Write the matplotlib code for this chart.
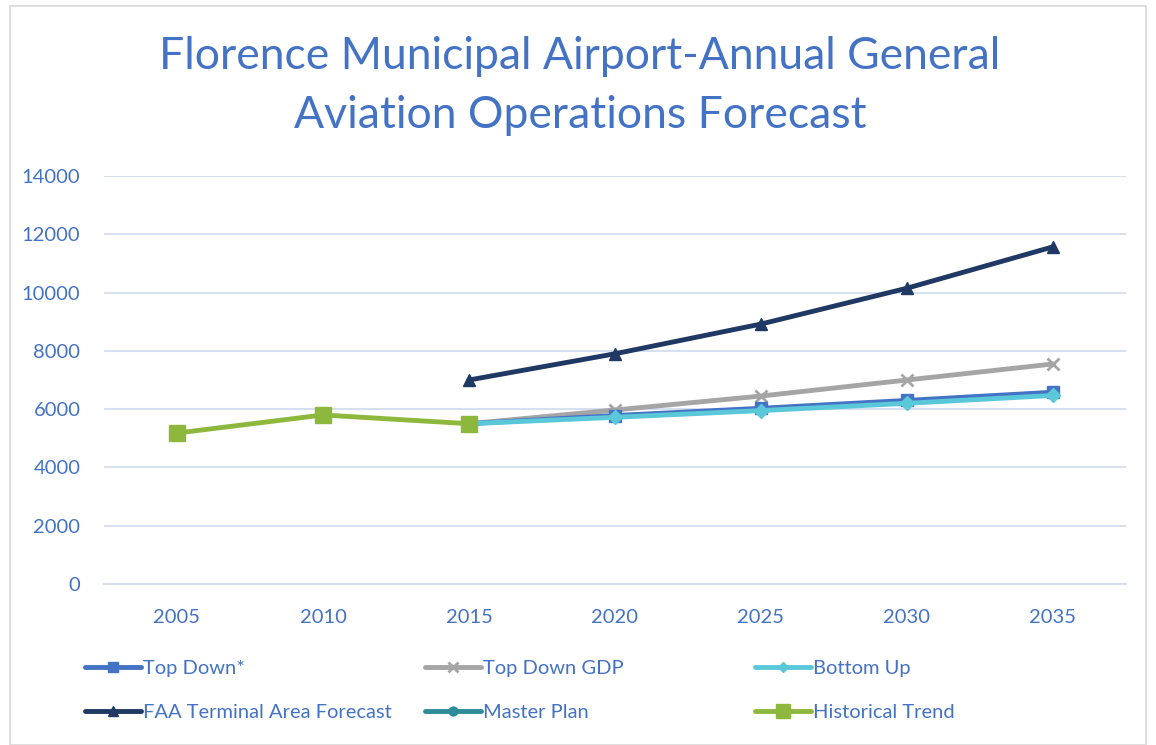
import matplotlib
matplotlib.use("Agg")
import matplotlib.pyplot as plt
import numpy as np
from matplotlib.patches import Rectangle

plt.rcParams['font.family'] = ['Lato', 'DejaVu Sans']

years = ["2005", "2010", "2015", "2020", "2025", "2030", "2035"]
nan = np.nan
top_down = [nan, nan, 5500, 5780, 6030, 6300, 6580]
top_down_gdp = [nan, nan, 5500, 5970, 6450, 7000, 7550]
bottom_up = [nan, nan, 5500, 5720, 5950, 6200, 6470]
faa_taf = [nan, nan, 7000, 7900, 8920, 10150, 11570]
master_plan = [nan, nan, nan, nan, nan, nan, nan]
historical = [5180, 5800, 5500, nan, nan, nan, nan]

title = "Florence Municipal Airport-Annual General\nAviation Operations Forecast"
blue = "#4472C4"

fig = plt.figure(figsize=(11.56, 7.45), dpi=100)
ax = fig.add_axes([104/1156, 1 - 584/745, (1126-104)/1156, (584-176)/745])

x = np.arange(len(years))
series = [
    ("Top Down*", top_down, "#4472C4", "s", 9),
    ("Top Down GDP", top_down_gdp, "#A5A5A5", "x", 9),
    ("Bottom Up", bottom_up, "#5BC8DA", "D", 7),
    ("FAA Terminal Area Forecast", faa_taf, "#1F3864", "^", 9),
    ("Master Plan", master_plan, "#2E8B99", "o", 8),
    ("Historical Trend", historical, "#8DB83D", "s", 12),
]
zorders = {"Top Down*": 4, "Top Down GDP": 3, "Bottom Up": 5,
           "FAA Terminal Area Forecast": 3, "Master Plan": 2, "Historical Trend": 6}
handles = []
for name, vals, col, mk, ms in series:
    h, = ax.plot(x, vals, color=col, lw=3.5, marker=mk, markersize=ms,
                 markeredgewidth=2 if mk == "x" else 1, markeredgecolor=col,
                 label=name, zorder=zorders[name], solid_capstyle='round')
    handles.append(h)

ax.set_xlim(-0.5, 6.5)
ax.set_ylim(0, 14000)
ax.set_yticks(np.arange(0, 14001, 2000))
ax.set_xticks(x)
ax.set_xticklabels(years)
ax.yaxis.grid(True, color="#D6E0F0", lw=1.5)
ax.set_axisbelow(True)
for s in ax.spines.values():
    s.set_visible(False)
ax.spines['bottom'].set_visible(True)
ax.spines['bottom'].set_color("#D6E0F0")
ax.spines['bottom'].set_linewidth(1.5)
ax.tick_params(axis='both', length=0, labelcolor=blue, labelsize=14.5)
ax.tick_params(axis='y', pad=17)
ax.tick_params(axis='x', pad=18)

fig.text(580/1156, 1 - 86/745, title, ha='center', va='center', color=blue,
         fontsize=32, linespacing=1.55)

# three legend columns, each with two rows
col_x = [85, 425, 755]
cols = [[0, 3], [1, 4], [2, 5]]
for cx, idx in zip(col_x, cols):
    lg = fig.legend(handles=[handles[i] for i in idx],
                    labels=[handles[i].get_label() for i in idx],
                    loc='center left', bbox_to_anchor=(cx/1156, 1 - 690.5/745),
                    frameon=False, fontsize=14.5, labelcolor=blue,
                    handlelength=2.8, handletextpad=0.1, labelspacing=1.3,
                    borderpad=0, borderaxespad=0, markerscale=0.8)

fig.patches.append(Rectangle((10/1156, 0), 1 - 20/1156, 1 - 6/745, transform=fig.transFigure,
                             fill=False, edgecolor="#D9D9D9", lw=1.2))
fig.savefig("out.png", dpi=100, facecolor="white")
